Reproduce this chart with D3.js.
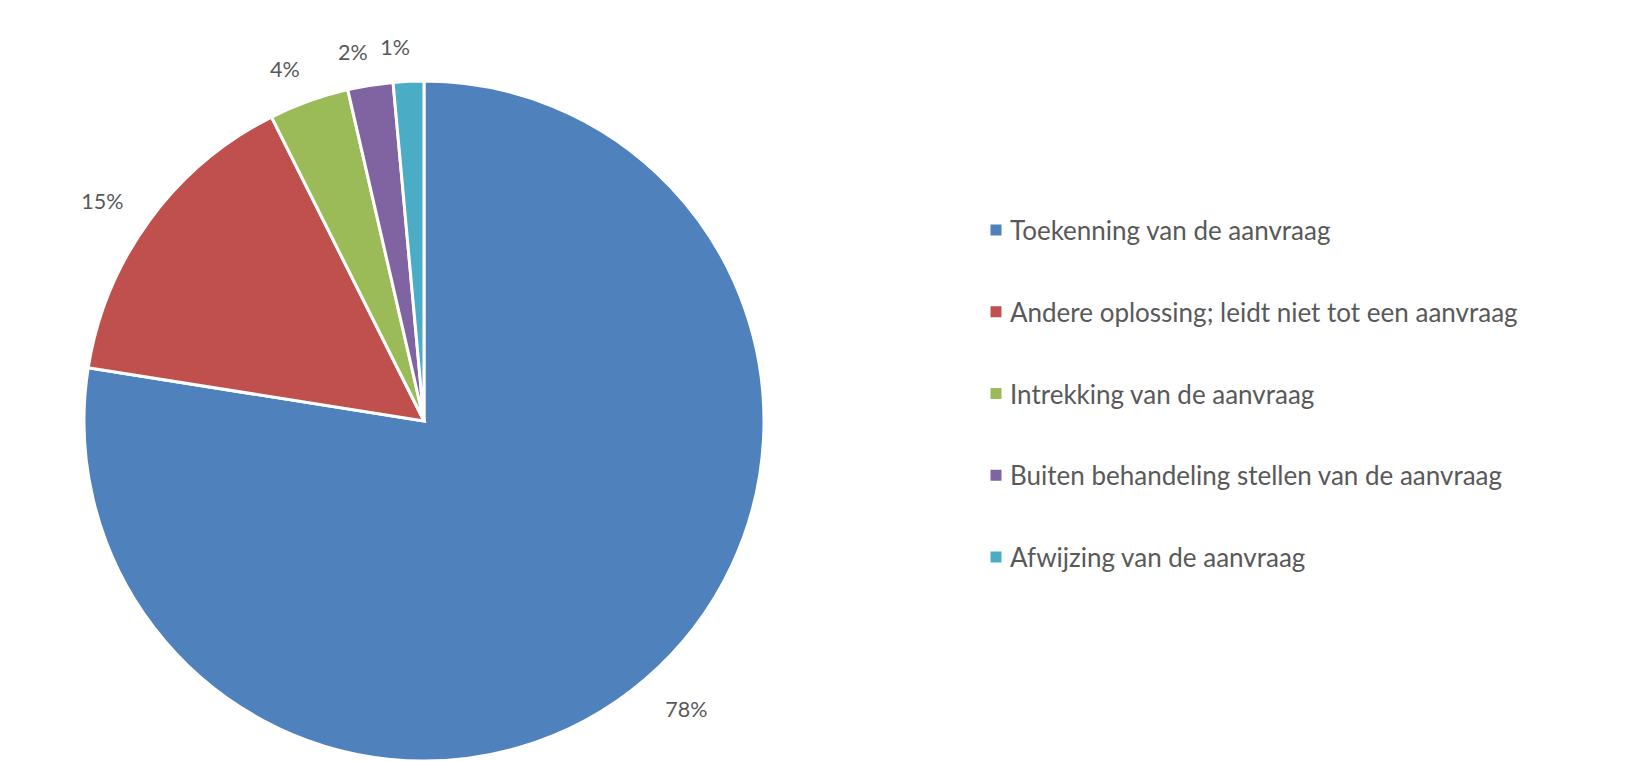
<!DOCTYPE html>
<html>
<head>
<meta charset="utf-8">
<script src="https://cdn.jsdelivr.net/npm/d3@7"></script>
<style>
  html, body { margin: 0; padding: 0; background: #fff; }
  svg text { font-family: Lato, "Open Sans", sans-serif; fill: #595959; }
</style>
</head>
<body>
<svg id="chart" width="1647" height="761"></svg>
<script>
const categories = [
  "Toekenning van de aanvraag",
  "Andere oplossing; leidt niet tot een aanvraag",
  "Intrekking van de aanvraag",
  "Buiten behandeling stellen van de aanvraag",
  "Afwijzing van de aanvraag"
];
const values = [77.5, 15.1, 3.8, 2.15, 1.45];
const colors = ["#4F81BD", "#C0504D", "#9BBB59", "#8064A2", "#4BACC6"];

const svg = d3.select("#chart");
const cx = 424, cy = 421, R = 340;

const data = categories.map((c, i) => ({ name: c, value: values[i], color: colors[i] }));
const pie = d3.pie().value(d => d.value).sort(null);
const arcs = pie(data);
const arc = d3.arc().innerRadius(0).outerRadius(R);

const g = svg.append("g").attr("transform", `translate(${cx},${cy})`);
g.selectAll("path.slice").data(arcs).join("path")
  .attr("class", "slice")
  .attr("d", arc)
  .attr("fill", d => d.data.color)
  .attr("stroke", "#fff")
  .attr("stroke-width", 3)
  .attr("stroke-linejoin", "miter");

const labelR = 376;
const mid = d => (d.startAngle + d.endAngle) / 2;
g.selectAll("text.lbl").data(arcs).join("text")
  .attr("class", "lbl")
  .attr("x", d => Math.sin(mid(d)) * labelR + (Math.sin(mid(d)) >= 0 ? -3 : 3))
  .attr("y", d => -Math.cos(mid(d)) * labelR + 2)
  .attr("text-anchor", d => Math.sin(mid(d)) >= 0 ? "start" : "end")
  .attr("dominant-baseline", "central")
  .style("font-size", "21.5px")
  .text(d => Math.round(d.data.value) + "%");

const legend = svg.append("g");
const ly = d3.scalePoint().domain(categories).range([230, 557]);
const items = legend.selectAll("g").data(data).join("g")
  .attr("transform", d => `translate(996,${ly(d.name)})`);
items.append("rect").attr("x", -5.5).attr("y", -5.5).attr("width", 11).attr("height", 11)
  .attr("fill", d => d.color);
items.append("text").attr("x", 14).attr("y", 0)
  .attr("dominant-baseline", "central")
  .style("font-size", "26px")
  .text(d => d.name);
</script>
</body>
</html>
